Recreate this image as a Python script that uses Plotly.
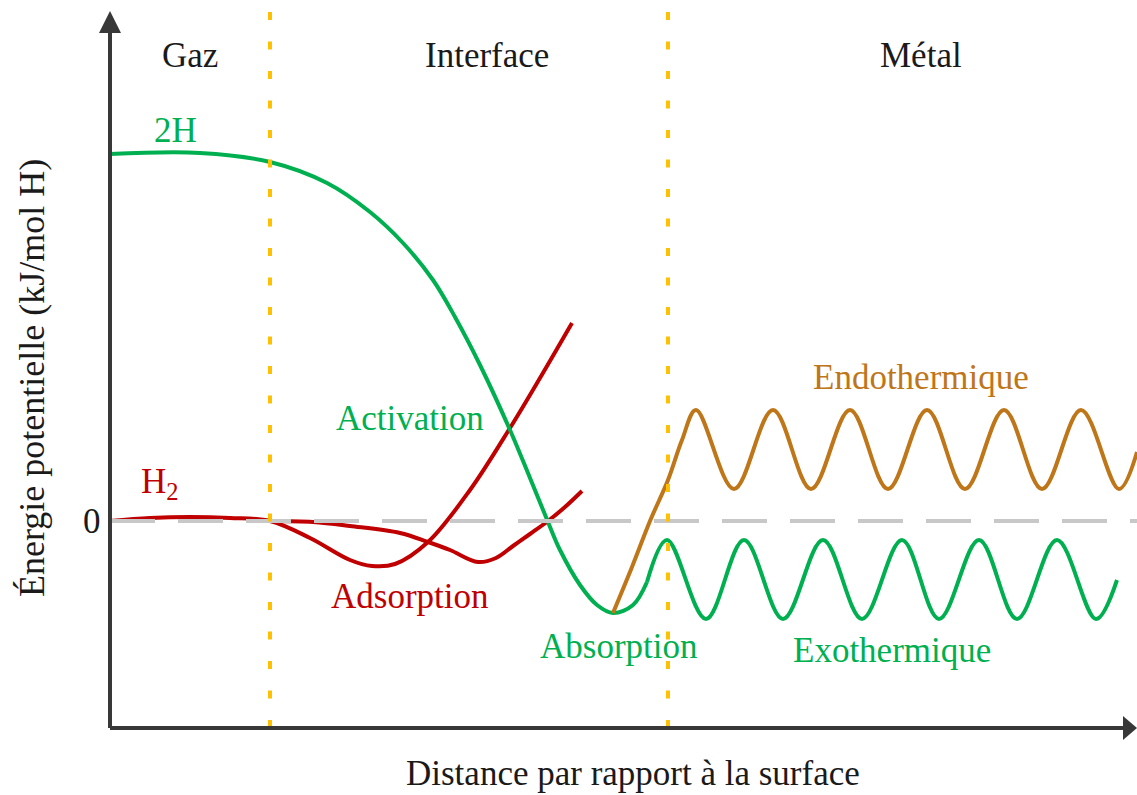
import plotly.graph_objects as go

h2_x = [0, 40, 80, 120, 160, 200, 240, 262, 285, 318, 360, 400, 430, 462]
h2_y = [0, 3, 4, 3, 0, -17, -39, -45, -43, -21, 31, 93, 143, 198]

h2b_x = [160, 203, 240, 290, 318, 340, 368, 386, 403, 420, 438, 455, 472]
h2b_y = [0, -1, -5, -12, -21, -29, -41, -37, -25, -13, 0, 14, 30]

h_x = [0, 90, 160, 217, 260, 293, 323, 345, 370, 400, 420, 438, 450, 470, 487, 503, 523, 537]
h_y = [367, 368, 359, 338, 309, 278, 241, 204, 156, 91, 43, -1, -29, -64, -84, -92, -84, -61]

exo_x = [537, 557, 596, 634, 673, 713, 752, 792, 829, 869, 907, 947, 986, 1007]
exo_y = [-61, -19, -98, -19, -98, -19, -98, -19, -98, -19, -98, -19, -98, -59]

endo_x = [503, 522, 540, 558, 572, 586, 624, 663, 701, 740, 778, 817, 855, 894, 932, 971, 1009, 1027]
endo_y = [-92, -46, 0, 41, 81, 111, 32, 111, 32, 111, 32, 111, 32, 111, 32, 111, 32, 69]

zone_bounds = [160, 558]
zone_names = ["Gaz", "Interface", "Métal"]
zone_x = [80, 377, 811]

GREEN = "#00B050"
RED = "#C00000"
ORANGE = "#BF7619"
AXIS = "#383838"
FONT = "Liberation Serif, Times New Roman, serif"

fig = go.Figure()

for xs, ys, col in [(h2_x, h2_y, RED), (h2b_x, h2b_y, RED), (h_x, h_y, GREEN),
                    (exo_x, exo_y, GREEN), (endo_x, endo_y, ORANGE)]:
    fig.add_trace(go.Scatter(x=xs, y=ys, mode="lines",
                             line=dict(color=col, width=4, shape="spline", smoothing=1.0),
                             hoverinfo="skip", showlegend=False))

shapes = []
# zero level
shapes.append(dict(type="line", x0=0, x1=1027, y0=0, y1=0, layer="above",
                   line=dict(color="#C8C8C8", width=4, dash="45px,23px")))
# zone boundaries
for xb in zone_bounds:
    shapes.append(dict(type="line", x0=xb, x1=xb, y0=509, y1=-207, layer="above",
                       line=dict(color="#FFC000", width=4, dash="8px,21.5px")))
# axes with arrowheads
shapes.append(dict(type="line", x0=0, x1=0, y0=-207, y1=490, layer="above",
                   line=dict(color=AXIS, width=4)))
shapes.append(dict(type="line", x0=0, x1=1015, y0=-207, y1=-207, layer="above",
                   line=dict(color=AXIS, width=4)))
shapes.append(dict(type="path", path="M -11,488 L 11,488 L 0,510 Z", layer="above",
                   fillcolor=AXIS, line=dict(width=0)))
shapes.append(dict(type="path", path="M 1013,-195 L 1013,-219 L 1027,-207 Z", layer="above",
                   fillcolor=AXIS, line=dict(width=0)))

annotations = []
for name, xz in zip(zone_names, zone_x):
    annotations.append(dict(x=xz, y=466, text=name, font=dict(color="#1a1a1a")))

labels = [
    (65, 391, "2H", GREEN),
    (50, 38, "H<sub>2</sub>", RED),
    (300, 103, "Activation", GREEN),
    (300, -75, "Adsorption", RED),
    (509, -125, "Absorption", GREEN),
    (782, -129, "Exothermique", GREEN),
    (811, 144, "Endothermique", ORANGE),
    (-18, 0, "0", "#1a1a1a"),
]
for xl, yl, txt, col in labels:
    annotations.append(dict(x=xl, y=yl, text=txt, font=dict(color=col)))

annotations.append(dict(x=523, y=-252, text="Distance par rapport à la surface",
                        font=dict(color="#1a1a1a")))
annotations.append(dict(x=-78, y=143, text="Énergie potentielle (kJ/mol H)", textangle=-90,
                        font=dict(color="#1a1a1a", size=36)))

for a in annotations:
    a.update(xref="x", yref="y", showarrow=False, xanchor="center", yanchor="middle")
    a["font"].setdefault("size", 35)
    a["font"]["family"] = FONT

fig.update_layout(
    width=1137, height=795,
    margin=dict(l=0, r=0, t=0, b=0),
    paper_bgcolor="white", plot_bgcolor="white",
    xaxis=dict(range=[-110, 1027], visible=False, fixedrange=True),
    yaxis=dict(range=[-274, 521], visible=False, fixedrange=True),
    shapes=shapes,
    annotations=annotations,
)

fig.write_html("out.html", config={"displayModeBar": False},
               post_script="document.body.style.margin='0';")
